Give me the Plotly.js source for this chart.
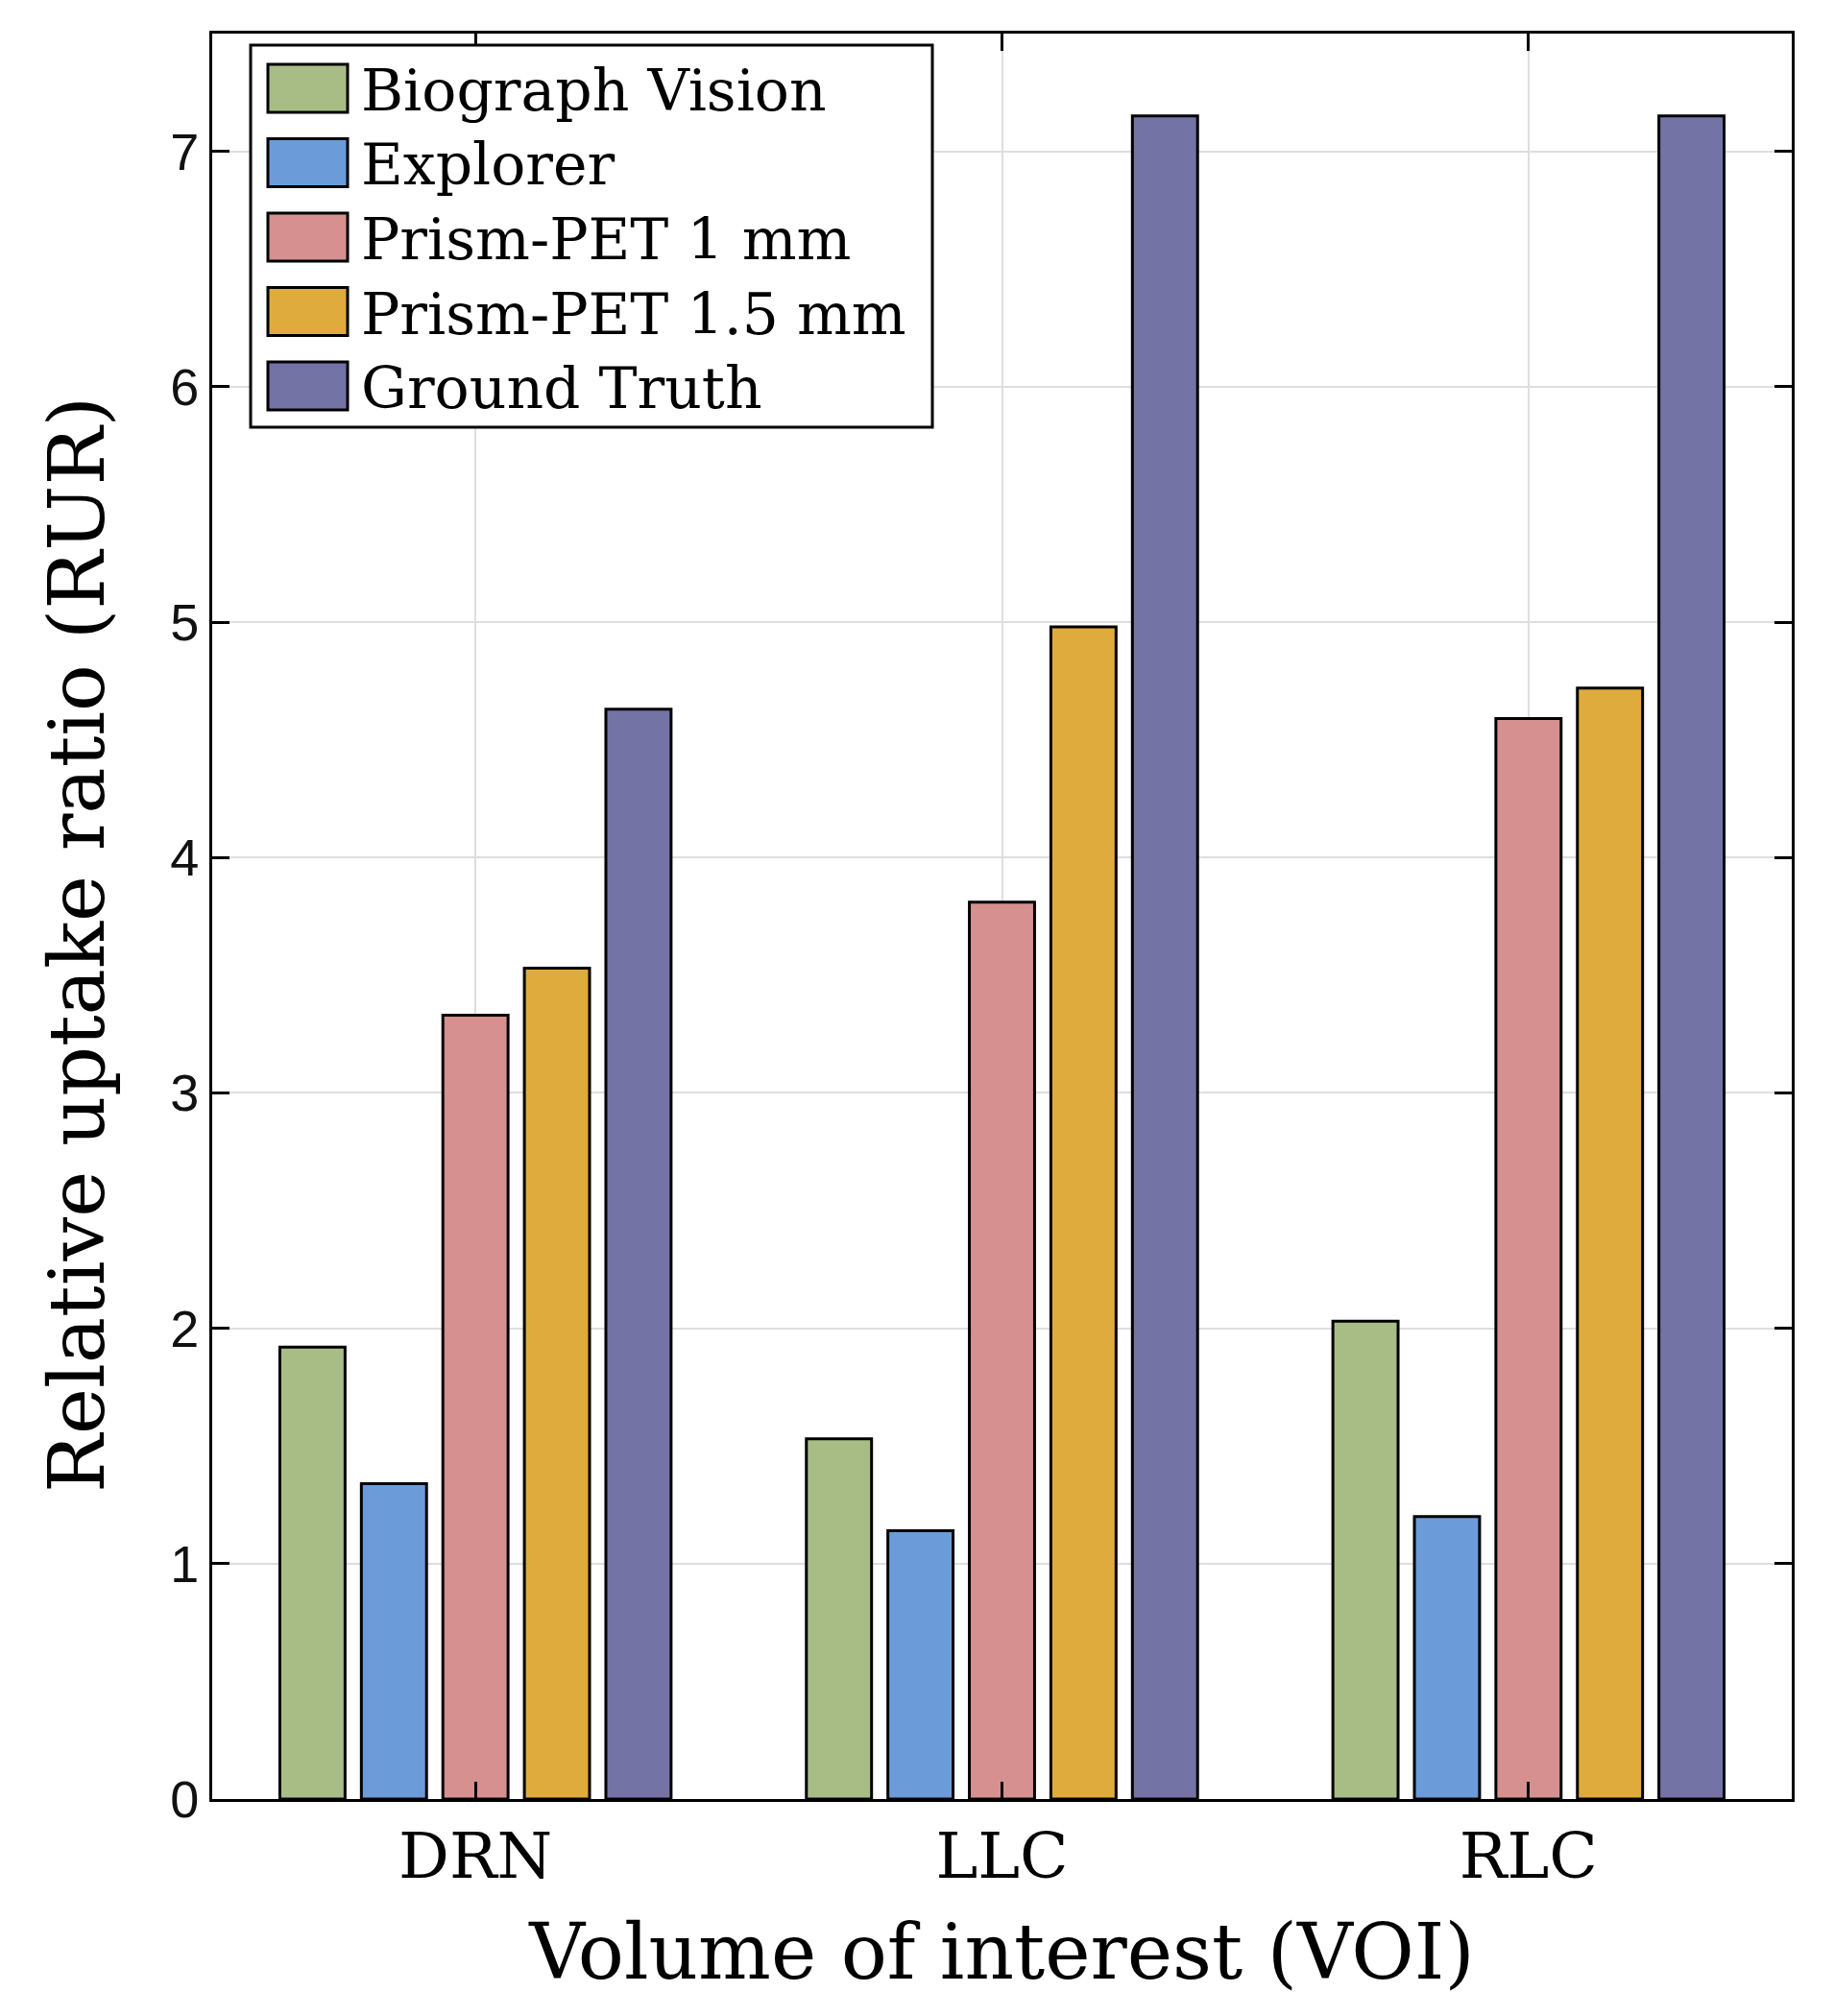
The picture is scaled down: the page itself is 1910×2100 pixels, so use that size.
<!DOCTYPE html>
<html>
<head>
<meta charset="utf-8">
<script src="https://cdn.plot.ly/plotly-3.0.1.min.js"></script>
<style>
  body { margin: 0; background: #fff; }
  #graph { width: 1910px; height: 2100px; }
</style>
</head>
<body>
<div id="graph"></div>
<script>
// values
var vois = ['DRN', 'LLC', 'RLC'];
var seriesNames = ['Biograph Vision', 'Explorer', 'Prism-PET 1 mm', 'Prism-PET 1.5 mm', 'Ground Truth'];
var seriesColors = ['#a8bd86', '#6b9bd8', '#d69090', '#dfab3d', '#7373a6'];
var biograph = [1.92, 1.53, 2.03];
var explorer = [1.34, 1.14, 1.20];
var prism1 = [3.33, 3.81, 4.59];
var prism15 = [3.53, 4.98, 4.72];
var truth = [4.63, 7.15, 7.15];
var yTicks = [0, 1, 2, 3, 4, 5, 6, 7];

var allValues = [biograph, explorer, prism1, prism15, truth];

var W = 1910, H = 2100;
var M = {l: 221, r: 44, t: 35, b: 226};
var serif = 'DejaVu Serif, serif';

var data = [];
for (var i = 0; i < allValues.length; i++) {
	data.push({
		type: 'bar',
		x: vois,
		y: allValues[i],
		name: seriesNames[i],
		marker: {color: seriesColors[i], line: {color: '#000', width: 3}},
		showlegend: false,
		hoverinfo: 'x+y+name'
	});
}

// legend is drawn by hand so the swatches can be as big as in the figure
function px(x) { return (x - M.l) / (W - M.l - M.r); }
function py(y) { return (H - M.b - y) / (H - M.t - M.b); }

var shapes = [{
	type: 'rect', xref: 'paper', yref: 'paper',
	x0: px(261), x1: px(971), y0: py(47), y1: py(445),
	fillcolor: '#fff', line: {color: '#000', width: 3}
}];
var annotations = [];
for (var k = 0; k < seriesNames.length; k++) {
	var cy = 92 + k * 77.5;
	shapes.push({
		type: 'rect', xref: 'paper', yref: 'paper',
		x0: px(279), x1: px(362), y0: py(cy - 25), y1: py(cy + 25),
		fillcolor: seriesColors[k], line: {color: '#000', width: 3}
	});
	annotations.push({
		xref: 'paper', yref: 'paper', x: px(374), y: py(cy + 2),
		xanchor: 'left', yanchor: 'middle', showarrow: false,
		text: seriesNames[k],
		font: {family: serif, size: 60, color: '#000'}
	});
}

// y title sits a bit below the middle in the original, so place it by hand
annotations.push({
	xref: 'paper', yref: 'paper', x: px(80), y: py(984),
	xanchor: 'center', yanchor: 'middle', showarrow: false, textangle: -90,
	text: 'Relative uptake ratio (RUR)',
	font: {family: serif, size: 81, color: '#000'}
});

var layout = {
	width: W, height: H,
	margin: M,
	paper_bgcolor: '#fff',
	plot_bgcolor: '#fff',
	barmode: 'group',
	bargap: 0.226,
	bargroupgap: 0.2,
	showlegend: false,
	xaxis: {
		type: 'category',
		range: [-0.5, 2.5],
		showline: true, linecolor: '#000', linewidth: 3, mirror: 'ticks',
		ticks: 'inside', ticklen: 18, tickwidth: 3, tickcolor: '#000',
		showgrid: true, gridcolor: '#dedede', gridwidth: 2,
		tickfont: {family: serif, size: 66, color: '#000'},
		title: {text: 'Volume of interest (VOI)', font: {family: serif, size: 80, color: '#000'}, standoff: 34},
		zeroline: false
	},
	yaxis: {
		range: [0, 7.5],
		tickvals: yTicks,
		showline: true, linecolor: '#000', linewidth: 3, mirror: 'ticks',
		ticks: 'inside', ticklen: 18, tickwidth: 3, tickcolor: '#000',
		showgrid: true, gridcolor: '#dedede', gridwidth: 2,
		tickfont: {family: 'Liberation Sans, Arial, sans-serif', size: 54, color: '#111'},
		zeroline: false
	},
	shapes: shapes,
	annotations: annotations
};

Plotly.newPlot('graph', data, layout, {displayModeBar: false});
</script>
</body>
</html>
